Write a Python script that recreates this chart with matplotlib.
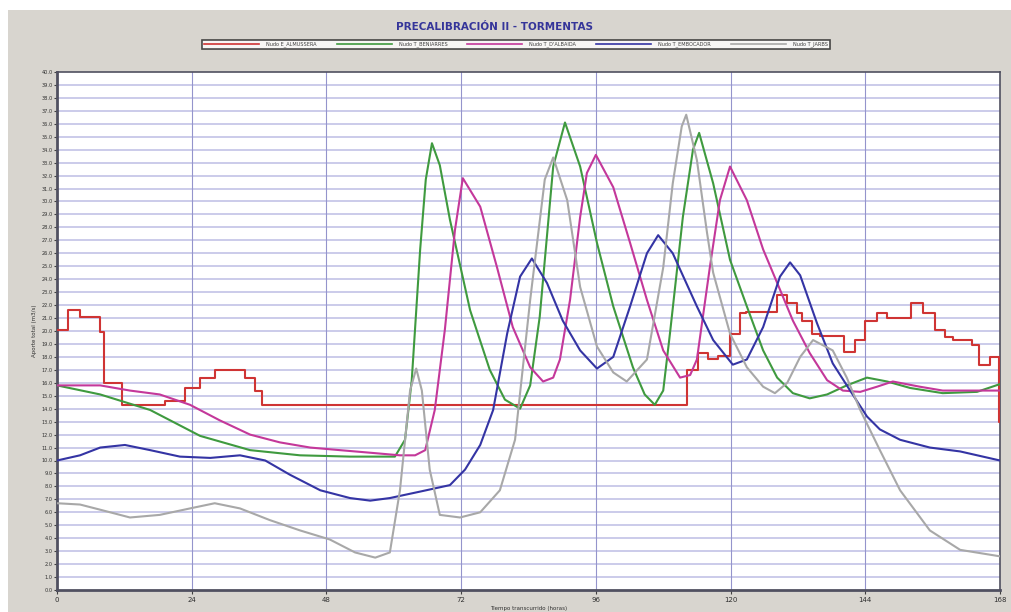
import matplotlib
matplotlib.use("Agg")
import matplotlib.pyplot as plt
from matplotlib.patches import Rectangle

# ---- data -------------------------------------------------------------
title = "PRECALIBRACIÓN II - TORMENTAS"
x_label = "Tiempo transcurrido (horas)"
y_label = "Aporte total (m3/s)"
x_ticks = [0, 24, 48, 72, 96, 120, 144, 168]

series_names = ["Nudo E_ALMUSSERA", "Nudo T_BENIARRES", "Nudo T_D'ALBAIDA",
                "Nudo T_EMBOCADOR", "Nudo T_JARBS"]

# step series (values hold until the next time)
red_t = [0, 2.0, 4.1, 7.7, 8.4, 11.6, 19.2, 22.8, 25.5, 28.1, 33.5, 35.3, 36.5,
         112.2, 114.2, 116.0, 117.7, 119.9, 121.7, 122.8, 128.2, 130.0, 131.8,
         132.8, 134.5, 136.0, 140.2, 142.2, 143.9, 146.1, 147.9, 152.2, 154.3,
         156.4, 158.2, 159.6, 163.0, 164.3, 166.2, 167.8, 168]
red_v = [20.1, 21.6, 21.1, 19.9, 16.0, 14.3, 14.6, 15.6, 16.4, 17.0, 16.4, 15.4, 14.3,
         17.0, 18.3, 17.8, 18.1, 19.8, 21.4, 21.5, 22.8, 22.2, 21.4,
         20.8, 19.8, 19.6, 18.4, 19.3, 20.8, 21.4, 21.0, 22.2, 21.4,
         20.1, 19.5, 19.3, 18.9, 17.4, 18.0, 13.0, 13.0]

green_t = [0, 7.7, 16.6, 25.5, 34.4, 43.3, 52.2, 60.2, 62.0, 63.2, 64.7, 65.7, 66.8,
           68.2, 70.0, 73.6, 77.1, 79.8, 82.5, 84.3, 86.0, 88.4, 90.5, 93.2, 96.2,
           99.1, 102.6, 104.7, 106.5, 108.0, 109.2, 111.5, 113.3, 114.4, 116.9,
           119.9, 122.9, 125.8, 128.3, 131.1, 134.1, 137.2, 140.7, 144.3, 147.9,
           152.0, 157.8, 163.9, 168]
green_v = [15.8, 15.1, 13.9, 11.9, 10.8, 10.4, 10.3, 10.3, 11.6, 16.2, 26.3, 31.7, 34.5,
           32.8, 28.6, 21.6, 17.0, 14.7, 14.0, 15.8, 21.1, 32.7, 36.1, 32.7, 26.8,
           21.9, 17.2, 15.1, 14.3, 15.4, 19.8, 28.8, 34.0, 35.3, 31.4,
           25.5, 21.9, 18.5, 16.4, 15.2, 14.8, 15.1, 15.8, 16.4, 16.1,
           15.6, 15.2, 15.3, 15.9]

pink_t = [0, 7.7, 13.0, 18.3, 23.7, 29.0, 34.4, 39.7, 45.1, 50.4, 55.8, 61.1, 63.8,
          65.6, 67.3, 69.1, 70.9, 72.3, 75.4, 78.4, 81.2, 84.3, 86.6, 88.4, 89.6,
          91.4, 93.2, 94.4, 96.0, 99.1, 102.1, 105.1, 108.0, 111.0, 112.8, 114.0,
          116.3, 118.1, 119.9, 122.9, 125.8, 128.8, 131.1, 134.1, 137.2, 140.0,
          143.1, 146.1, 148.9, 153.7, 157.8, 163.9, 168]
pink_v = [15.8, 15.8, 15.4, 15.1, 14.3, 13.1, 12.0, 11.4, 11.0, 10.8, 10.6, 10.4, 10.4,
          10.8, 13.9, 20.1, 27.8, 31.8, 29.6, 24.9, 20.3, 17.2, 16.1, 16.4, 17.8,
          22.4, 28.8, 32.2, 33.6, 31.1, 26.8, 22.4, 18.5, 16.4, 16.6, 17.8,
          24.9, 30.1, 32.7, 30.1, 26.3, 23.2, 20.8, 18.3, 16.2, 15.4,
          15.3, 15.7, 16.1, 15.7, 15.4, 15.4, 15.4]

blue_t = [0, 4.1, 7.7, 12.1, 16.6, 21.9, 27.3, 32.6, 37.1, 41.5, 46.9, 52.2, 55.8,
          59.3, 64.7, 70.0, 72.7, 75.4, 77.7, 80.2, 82.5, 84.6, 87.3, 90.1, 93.2,
          96.2, 99.1, 102.1, 105.1, 107.1, 109.7, 114.0, 116.9, 120.4, 122.9,
          125.8, 128.8, 130.6, 132.4, 135.4, 138.2, 141.3, 144.3, 146.6, 150.2,
          155.5, 160.9, 168]
blue_v = [10.0, 10.4, 11.0, 11.2, 10.8, 10.3, 10.2, 10.4, 10.0, 8.9, 7.7, 7.1, 6.9,
          7.1, 7.6, 8.1, 9.3, 11.2, 13.9, 19.8, 24.2, 25.6, 23.7, 20.8, 18.5,
          17.1, 18.0, 21.9, 26.0, 27.4, 26.0, 21.9, 19.3, 17.4, 17.8,
          20.3, 24.2, 25.3, 24.3, 20.6, 17.5, 15.4, 13.4, 12.4, 11.6,
          11.0, 10.7, 10.0]

gray_t = [0, 4.1, 7.7, 13.0, 18.3, 23.7, 28.1, 32.6, 37.9, 43.3, 48.6, 53.1, 56.7,
          59.3, 61.1, 62.9, 64.0, 65.0, 66.4, 68.2, 71.8, 75.4, 78.9, 81.6, 84.3,
          86.9, 88.4, 90.9, 93.2, 96.2, 99.1, 101.5, 105.1, 108.0, 109.7, 111.3,
          112.1, 114.0, 115.8, 116.9, 119.9, 122.9, 125.8, 127.9, 130.1, 132.4,
          134.7, 138.2, 140.7, 143.1, 146.6, 150.2, 155.5, 160.9, 168]
gray_v = [6.7, 6.6, 6.2, 5.6, 5.8, 6.3, 6.7, 6.3, 5.4, 4.6, 3.9, 2.9, 2.5,
          2.9, 7.7, 15.4, 17.1, 15.4, 9.3, 5.8, 5.6, 6.0, 7.7, 11.6, 22.4,
          31.7, 33.4, 30.1, 23.4, 18.8, 16.8, 16.1, 17.8, 24.9, 31.4, 35.8,
          36.7, 33.2, 27.6, 24.5, 19.8, 17.2, 15.7, 15.2, 16.0, 18.0,
          19.3, 18.5, 16.4, 13.9, 10.8, 7.7, 4.6, 3.1, 2.6]

colors = ["#cf3434", "#3f9a3f", "#c4389a", "#3434a4", "#a8a8a8"]

# ---- figure -----------------------------------------------------------
fig = plt.figure(figsize=(10.11, 6.12), dpi=100, facecolor="white")
panel = Rectangle((8 / 1011, 0), 1 - 8 / 1011, 1 - 10 / 612,
                  transform=fig.transFigure, facecolor="#d8d5cf",
                  edgecolor="none", zorder=-10)
fig.patches.append(panel)

ax = fig.add_axes([57 / 1011, 22 / 612, 943 / 1011, 518 / 612])
ax.set_zorder(5)
ax.set_facecolor("white")
ax.set_xlim(0, 168)
ax.set_ylim(0, 40)

# horizontal grid every 1.0, vertical every 24 h
for yv in range(1, 40):
    ax.axhline(yv, color="#c2c2e6", lw=1.2, zorder=1)
for xv in x_ticks[1:-1]:
    ax.axvline(xv, color="#9494cc", lw=0.8, zorder=1)

lw = 1.5
h_red, = ax.plot(red_t, red_v, drawstyle="steps-post", color=colors[0], lw=lw, zorder=3)
h_green, = ax.plot(green_t, green_v, color=colors[1], lw=lw, zorder=3)
h_pink, = ax.plot(pink_t, pink_v, color=colors[2], lw=lw, zorder=3)
h_blue, = ax.plot(blue_t, blue_v, color=colors[3], lw=lw, zorder=3)
h_gray, = ax.plot(gray_t, gray_v, color=colors[4], lw=lw, zorder=3)

ax.set_xticks(x_ticks)
ax.set_xticklabels([str(t) for t in x_ticks])
ax.set_yticks(range(0, 41))
ax.set_yticklabels([f"{v:.1f}" for v in range(0, 41)])
ax.tick_params(axis="x", labelsize=5, length=3, color="#404040", labelcolor="#303030", pad=2)
ax.tick_params(axis="y", labelsize=3.6, length=2, color="#404040", labelcolor="#303030", pad=1)
for side in ["left", "bottom", "top", "right"]:
    ax.spines[side].set_color("#505060")
ax.spines["left"].set_linewidth(2.0)
ax.spines["bottom"].set_linewidth(2.0)
ax.spines["top"].set_linewidth(1.2)
ax.spines["right"].set_linewidth(1.2)

ax.set_xlabel(x_label, fontsize=4, color="#303030", labelpad=2)
ax.set_ylabel(y_label, fontsize=4, color="#303030", labelpad=3)

fig.text(494 / 1011, 1 - 27 / 612, title, ha="center", va="center",
         fontsize=7.5, fontweight="bold", color="#35359a")

leg = fig.legend([h_red, h_green, h_pink, h_blue, h_gray], series_names,
                 loc="center", bbox_to_anchor=(516 / 1011, 1 - 44.5 / 612),
                 ncol=5, fontsize=3.6, handlelength=11, columnspacing=4.0,
                 handletextpad=1.4, frameon=True, fancybox=False,
                 borderpad=0.35, borderaxespad=0)
leg.get_frame().set_edgecolor("#202020")
leg.get_frame().set_linewidth(1.2)
for txt in leg.get_texts():
    txt.set_color("#404040")
for ln in leg.get_lines():
    ln.set_linewidth(1.2)

fig.savefig("out.png", dpi=100, facecolor=fig.get_facecolor())
